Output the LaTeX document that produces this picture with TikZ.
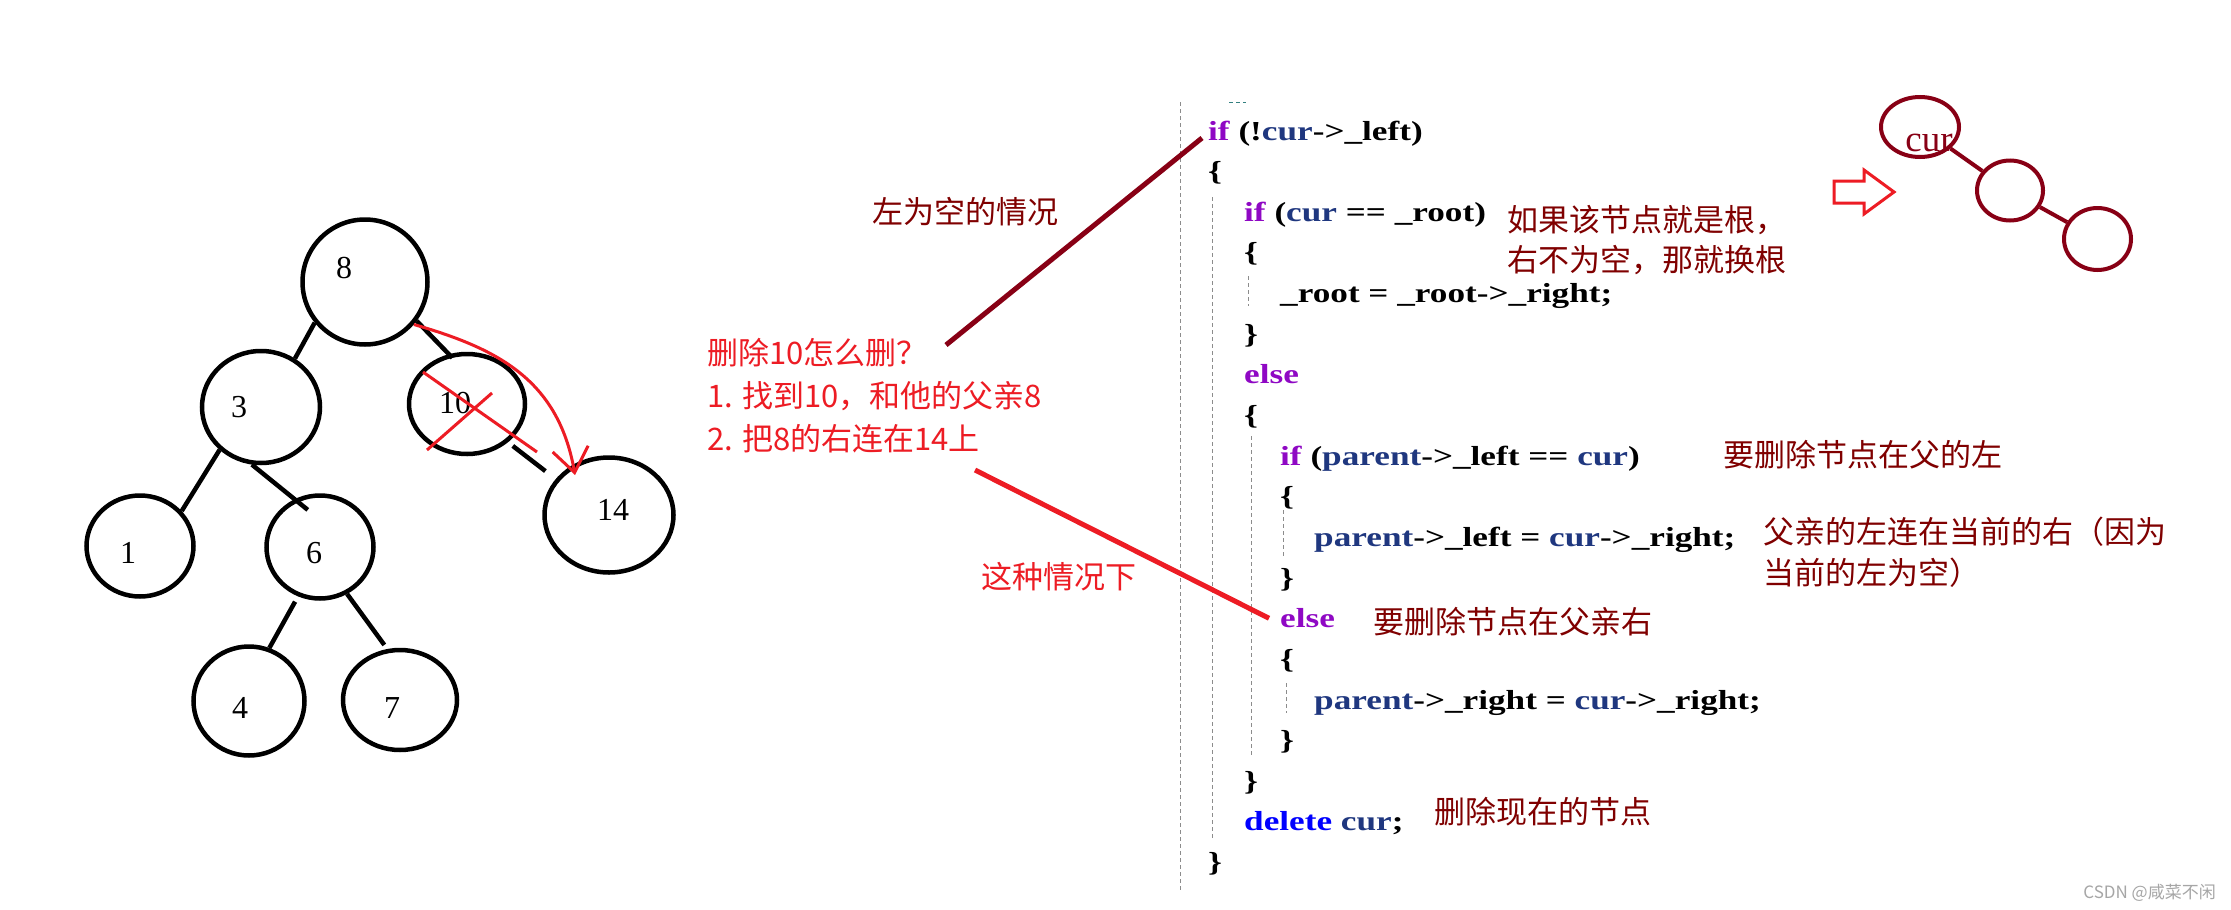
\documentclass[tikz,border=0pt]{standalone}
\usepackage{xcolor}
\usepackage{fontspec}
\usepackage{tikz}
\usetikzlibrary{shapes.geometric,arrows.meta}
\setmainfont{Liberation Serif}
\newfontfamily\cjk{Noto Sans CJK SC}
\newfontfamily\codefont[FakeStretch=1.28]{Liberation Serif}
\definecolor{kwpurple}{RGB}{143,8,196}
\definecolor{varblue}{RGB}{31,55,127}
\definecolor{delblue}{RGB}{0,0,255}
\definecolor{notered}{RGB}{128,0,0}
\definecolor{pendark}{RGB}{136,0,21}
\definecolor{penred}{RGB}{237,28,36}
\definecolor{guidegray}{RGB}{140,140,140}
\newcommand{\kw}[1]{\textcolor{kwpurple}{#1}}
\newcommand{\va}[1]{\textcolor{varblue}{#1}}
\tikzset{>=stealth,
  tnode/.style={draw, ellipse, line width=4.5pt, inner sep=0pt},
  tlabel/.style={inner sep=0pt, font=\fontsize{32pt}{32pt}\selectfont},
  tedge/.style={line width=4.5pt},
  rnode/.style={draw=pendark, ellipse, line width=4pt, inner sep=0pt},
  rline/.style={draw=pendark, line width=4pt},
  codeline/.style={anchor=base west, inner sep=0pt, font=\codefont\bfseries\fontsize{27.5pt}{30pt}\selectfont},
  note/.style={anchor=west, inner sep=0pt, text=notered, font=\cjk\fontsize{31pt}{31pt}\selectfont},
  rednote/.style={note, text=penred},
  redpen/.style={draw=penred, line width=3pt},
  guide/.style={draw=guidegray, line width=1pt, dash pattern=on 4pt off 3pt}}

\begin{document}
\begin{tikzpicture}[x=1pt,y=-1pt]
  \fill[white] (0,0) rectangle (2231,910);
  \useasboundingbox (0,0) rectangle (2231,910);

  % the tree
  \node[tnode, minimum width=125pt, minimum height=125pt, label={[tlabel, xshift=-21pt, yshift=14pt]center:8}] (n8) at (365,282) {};
  \node[tnode, minimum width=118pt, minimum height=112pt, label={[tlabel, xshift=-22pt]center:3}] (n3) at (261,407) {};
  \node[tnode, minimum width=116pt, minimum height=100pt, label={[tlabel, xshift=-12pt, yshift=1pt]center:10}] (n10) at (467,404) {};
  \node[tnode, minimum width=129pt, minimum height=115pt, label={[tlabel, xshift=4pt, yshift=5pt]center:14}] (n14) at (609,515) {};
  \node[tnode, minimum width=107pt, minimum height=101pt, label={[tlabel, xshift=-12pt, yshift=-7pt]center:1}] (n1) at (140,546) {};
  \node[tnode, minimum width=107pt, minimum height=103pt, label={[tlabel, xshift=-6pt, yshift=-6pt]center:6}] (n6) at (320,547) {};
  \node[tnode, minimum width=111pt, minimum height=109pt, label={[tlabel, xshift=-9pt, yshift=-7pt]center:4}] (n4) at (249,701) {};
  \node[tnode, minimum width=114pt, minimum height=100pt, label={[tlabel, xshift=-8pt, yshift=-8pt]center:7}] (n7) at (400,700) {};

  \draw[tedge] (n8.219) -- (n3.55);
  \draw[tedge, shorten >=-5pt] (n8.323) -- (n10.110);
  \draw[tedge, shorten <=6pt, shorten >=13pt] (n10.317) -- (n14.146);
  \draw[tedge] (n3.226) -- (n1.40);
  \draw[tedge, shorten >=-17pt] (n3.261) -- (n6.118);
  \draw[tedge, shorten <=6pt] (n6.246) -- (n4.69);
  \draw[tedge, shorten >=5pt] (n6.300) -- (n7.104);

  % crossing out 10, new link 8 -> 14
  \draw[redpen] (423,372) -- (537,452);
  \draw[redpen] (492,393) -- (427,450);
  \coordinate (tip14) at (575,475);
  \draw[redpen, -{Straight Barb[length=24pt,width=36pt]}] (n8.319) .. controls (495,348) and (558,378) .. (tip14);

  % notes in the middle
  \node[note] (empty) at (872,212) {左为空的情况};
  \node[rednote] (how) at (707,353) {删除10怎么删？};
  \node[rednote] (step1) at (707,396) {1. 找到10，和他的父亲8};
  \node[rednote] (step2) at (707,439) {2. 把8的右连在14上};
  \node[rednote] (case) at (981,577) {这种情况下};

  % the code
  \draw[guide] (1180,102) -- (1180,892);
  \draw[guide] (1212,197) -- (1212,838);
  \draw[guide] (1248,276) -- (1248,306);
  \draw[guide] (1251,436) -- (1251,756);
  \draw[guide] (1283,510) -- (1283,557);
  \draw[guide] (1286,683) -- (1286,713);
  \draw[guide, draw=teal!60!gray] (1229,102) -- (1246,102);

  \node[codeline] (l1) at (1208,140) {\kw{if} (!\va{cur}->\_left)};
  \node[codeline] (l2) at (1208,180.6) {\{};
  \node[codeline] (l3) at (1244,221.3) {\kw{if} (\va{cur} == \_root)};
  \node[codeline] (l4) at (1244,261.9) {\{};
  \node[codeline] (l5) at (1280,302.6) {\_root = \_root->\_right;};
  \node[codeline] (l6) at (1244,343.2) {\}};
  \node[codeline] (l7) at (1244,383.8) {\kw{else}};
  \node[codeline] (l8) at (1244,424.5) {\{};
  \node[codeline] (l9) at (1280,465.1) {\kw{if} (\va{parent}->\_left == \va{cur})};
  \node[codeline] (l10) at (1280,505.8) {\{};
  \node[codeline] (l11) at (1314,546.4) {\va{parent}->\_left = \va{cur}->\_right;};
  \node[codeline] (l12) at (1280,587.0) {\}};
  \node[codeline] (l13) at (1280,627.7) {\kw{else}};
  \node[codeline] (l14) at (1280,668.3) {\{};
  \node[codeline] (l15) at (1314,709.0) {\va{parent}->\_right = \va{cur}->\_right;};
  \node[codeline] (l16) at (1280,749.6) {\}};
  \node[codeline] (l17) at (1244,790.2) {\}};
  \node[codeline] (l18) at (1244,830.9) {\textcolor{delblue}{delete} \va{cur};};
  \node[codeline] (l19) at (1208,871.5) {\}};

  % notes next to the code
  \node[note] (isroot) at (1507,220) {如果该节点就是根，};
  \node[note] (isroot2) at (1507,260) {右不为空，那就换根};
  \node[note] (onleft) at (1723,455) {要删除节点在父的左};
  \node[note] (link) at (1763,532) {父亲的左连在当前的右（因为};
  \node[note] (link2) at (1763,573) {当前的左为空）};
  \node[note] (onright) at (1373,622) {要删除节点在父亲右};
  \node[note] (del) at (1434,812) {删除现在的节点};

  \coordinate (from1) at (946,345);
  \coordinate (from2) at (975,470);
  \draw[pendark, line width=5pt] (from1) -- ([xshift=-6pt,yshift=2pt]l1.base west);
  \draw[penred, line width=5pt] (from2) -- ([xshift=-11pt]l13.west);

  % small tree on the right
  \draw[penred, line width=3pt, line join=miter] (1834,181) -- (1864,181) -- (1864,170) -- (1894,192) -- (1864,214) -- (1864,203) -- (1834,203) -- cycle;
  \node[rnode, minimum width=78pt, minimum height=60pt, label={[inner sep=0pt, text=pendark, font=\fontsize{37pt}{37pt}\selectfont, xshift=9pt, yshift=-16pt]center:cur}] (ra) at (1920,127) {};
  \node[rnode, minimum width=66pt, minimum height=60pt] (rb) at (2010,190.5) {};
  \node[rnode, minimum width=67pt, minimum height=62pt] (rc) at (2097.5,239) {};
  \draw[rline] (ra) -- (rb);
  \draw[rline] (rb) -- (rc);

  \node[anchor=east, inner sep=0pt, text=gray!70, font=\cjk\fontsize{17pt}{17pt}\selectfont] (mark) at (2216,893) {CSDN @咸菜不闲};
\end{tikzpicture}
\end{document}
